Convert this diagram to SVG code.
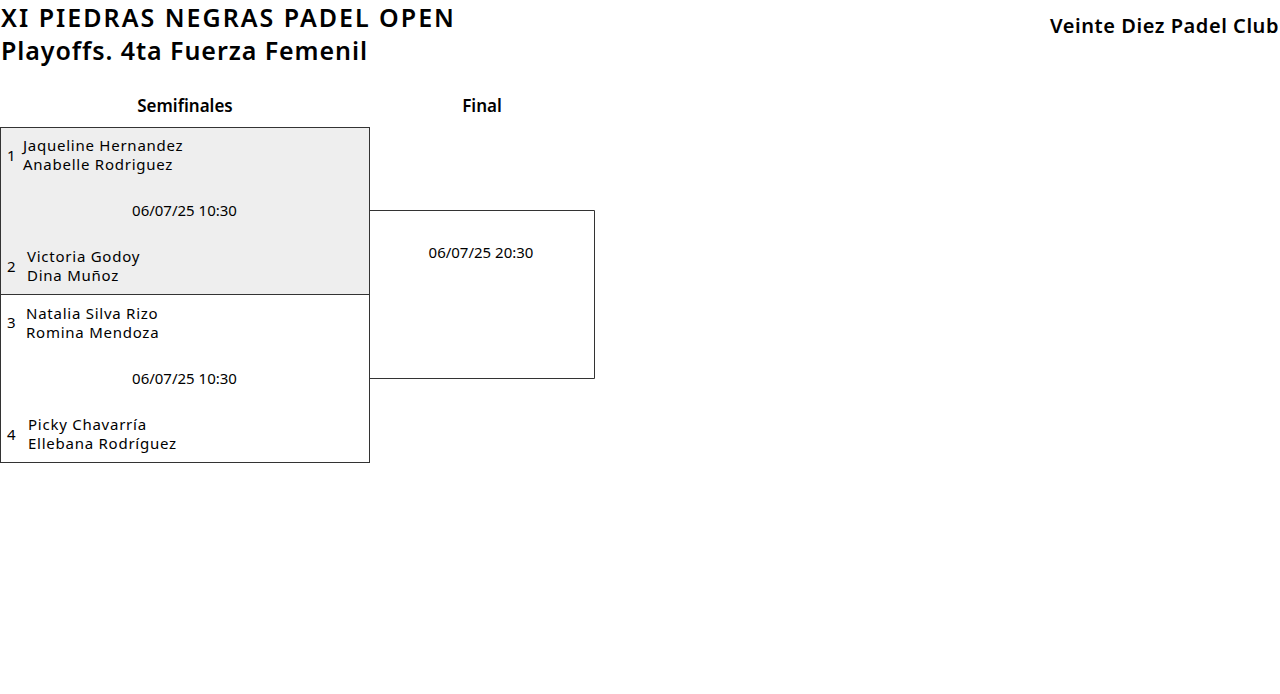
<svg xmlns="http://www.w3.org/2000/svg" width="1280" height="694" viewBox="0 0 1280 694">
<style>
text{font-family:"Noto Sans","Open Sans","DejaVu Sans",sans-serif;fill:#000}
.t{font-size:25px;font-weight:600}
.t1{letter-spacing:2px}
.t2{letter-spacing:0.93px}
.club{font-size:20px;font-weight:600;letter-spacing:0.55px}
.h{font-size:17px;font-weight:600}
.n{font-size:15px;letter-spacing:0.75px}
.d{font-size:15px}
.box{stroke:#333;stroke-width:1}
</style>
<rect width="1280" height="694" fill="#fff"/>
<text class="t t1" x="1" y="27">XI PIEDRAS NEGRAS PADEL OPEN</text>
<text class="t t2" x="1" y="60">Playoffs. 4ta Fuerza Femenil</text>
<text class="club" x="1279" y="33" text-anchor="end">Veinte Diez Padel Club</text>
<text class="h" x="185" y="112" text-anchor="middle">Semifinales</text>
<text class="h" x="482" y="112" text-anchor="middle">Final</text>
<g id="connectors">
<path d="M369.5 210.5H594.5V378.5H369.5" fill="none" class="box"/>
</g>
<g id="sf1">
<rect x="0.5" y="127.5" width="369" height="167" fill="#eeeeee" class="box"/>
<text class="d" x="7" y="161">1</text>
<text class="n" x="23" y="151">Jaqueline Hernandez</text>
<text class="n" x="23" y="170">Anabelle Rodriguez</text>
<text class="d" x="184.5" y="216" text-anchor="middle">06/07/25 10:30</text>
<text class="d" x="7" y="272">2</text>
<text class="n" x="27" y="262">Victoria Godoy</text>
<text class="n" x="27" y="281">Dina Muñoz</text>
</g>
<g id="sf2">
<rect x="0.5" y="294.5" width="369" height="168" fill="#ffffff" class="box"/>
<text class="d" x="7" y="328">3</text>
<text class="n" x="26" y="319">Natalia Silva Rizo</text>
<text class="n" x="26" y="338">Romina Mendoza</text>
<text class="d" x="184.5" y="384" text-anchor="middle">06/07/25 10:30</text>
<text class="d" x="7" y="440">4</text>
<text class="n" x="28" y="430">Picky Chavarría</text>
<text class="n" x="28" y="449">Ellebana Rodríguez</text>
</g>
<g id="final">
<text class="d" x="481" y="258" text-anchor="middle">06/07/25 20:30</text>
</g>
</svg>
